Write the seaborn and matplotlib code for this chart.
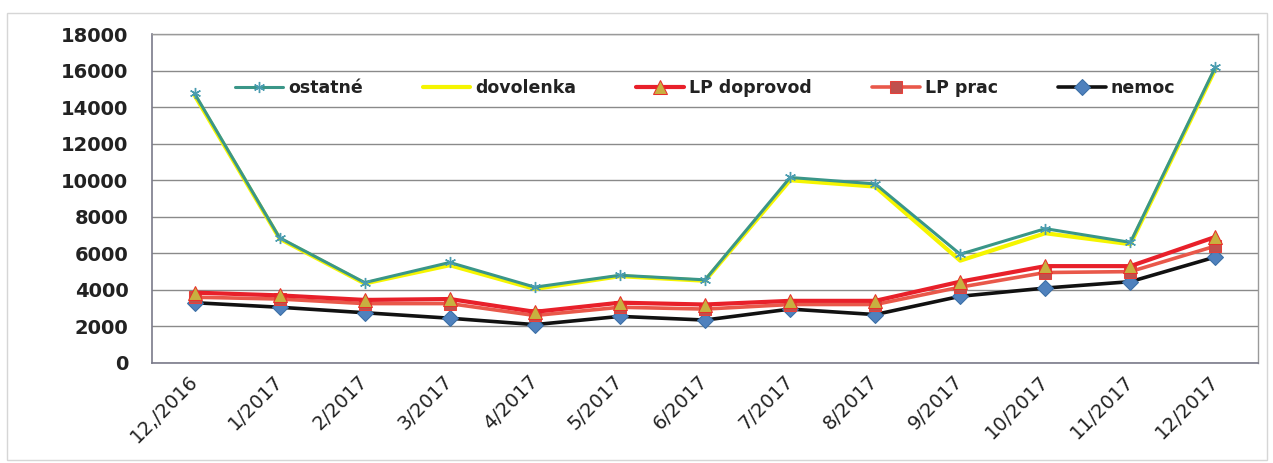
import numpy as np
import pandas as pd
import matplotlib
matplotlib.use("Agg")
import matplotlib.pyplot as plt
from matplotlib.patches import Rectangle
from matplotlib.ticker import FixedLocator, MultipleLocator
import seaborn as sns

# Monthly totals by absence type
months = ["12,/2016", "1/2017", "2/2017", "3/2017", "4/2017", "5/2017", "6/2017",
          "7/2017", "8/2017", "9/2017", "10/2017", "11/2017", "12/2017"]
ostatne = [14750, 6850, 4400, 5500, 4150, 4800, 4550, 10150, 9800, 5950, 7350, 6600, 16200]
dovolenka = [14650, 6800, 4350, 5350, 4050, 4750, 4500, 10000, 9650, 5600, 7100, 6500, 16100]
lp_doprovod = [3850, 3700, 3450, 3500, 2800, 3300, 3200, 3400, 3400, 4450, 5300, 5300, 6900]
lp_prac = [3600, 3500, 3250, 3250, 2600, 3050, 2950, 3200, 3200, 4150, 4950, 5000, 6400]
nemoc = [3300, 3050, 2750, 2450, 2100, 2550, 2350, 2950, 2650, 3650, 4100, 4450, 5800]

sns.set_theme(style="white")
plt.rcParams["font.family"] = ["DejaVu Sans"]

W, H = 1273, 463
fig = plt.figure(figsize=(W / 100, H / 100), dpi=100)
fig.patch.set_facecolor("white")
ax = fig.add_axes([152 / W, 1 - 363 / H, (1258 - 152) / W, (363 - 34) / H])

# outer chart frame
fig.patches.append(Rectangle((7 / W, 3 / H), 1260 / W, 447 / H, transform=fig.transFigure,
                             fill=False, edgecolor="#d6d6d6", linewidth=1.0))

df = pd.DataFrame({"month": months, "ostatné": ostatne, "dovolenka": dovolenka,
                   "LP doprovod": lp_doprovod, "LP prac": lp_prac, "nemoc": nemoc})

styles = {
    "nemoc": dict(color="#111111", lw=2.6, marker="D", markersize=8,
                  markerfacecolor="#4f81bd", markeredgecolor="#3a6ea5"),
    "LP prac": dict(color="#e9584a", lw=2.6, marker="s", markersize=8.5,
                    markerfacecolor="#c0504d", markeredgecolor="#e8403a"),
    "LP doprovod": dict(color="#e8202a", lw=3.0, marker="^", markersize=10.5,
                        markerfacecolor="#c8b040", markeredgecolor="#e8302a"),
    "dovolenka": dict(color="#f5f500", lw=3.0, marker=None),
    "ostatné": dict(color="#3a9688", lw=2.2, marker=(6, 2, 0), markersize=8,
                    markeredgecolor="#4a9cb0", markeredgewidth=1.0),
}

for name in ["nemoc", "LP prac", "LP doprovod", "dovolenka", "ostatné"]:
    sns.lineplot(data=df, x="month", y=name, ax=ax, sort=False, label=name, **styles[name])

ax.set_xlim(-0.5, len(months) - 0.5)
ax.set_ylim(0, 18000)
ax.yaxis.set_major_locator(MultipleLocator(2000))
ax.set_xlabel("")
ax.set_ylabel("")

ax.grid(axis="y", color="#8a8a8a", lw=1.0)
ax.grid(axis="x", visible=False)
ax.set_axisbelow(True)
for side in ["left", "bottom"]:
    ax.spines[side].set_color("#7a7a8a")
    ax.spines[side].set_linewidth(1.2)
for side in ["top", "right"]:
    ax.spines[side].set_color("#9a9a9a")
    ax.spines[side].set_linewidth(1.0)

ax.tick_params(axis="y", which="major", direction="out", length=5, width=1, color="#7a7a8a",
               pad=12, labelsize=14)
for lbl in ax.get_yticklabels():
    lbl.set_fontweight("bold")
    lbl.set_color("#222222")

ax.set_xticks(range(len(months)))
ax.set_xticklabels(months, rotation=45, ha="right", va="center", rotation_mode="anchor",
                   fontsize=14, color="#222222")
ax.tick_params(axis="x", which="major", length=0, pad=11)
ax.xaxis.set_minor_locator(FixedLocator(np.arange(0.5, len(months) - 0.5, 1)))
ax.tick_params(axis="x", which="minor", direction="out", length=5, width=1, color="#7a7a8a")

handles, labels = ax.get_legend_handles_labels()
order = ["ostatné", "dovolenka", "LP doprovod", "LP prac", "nemoc"]
hmap = dict(zip(labels, handles))
leg = ax.legend([hmap[k] for k in order], order, ncol=5, loc="center left",
                bbox_to_anchor=(0.075, 0.836), frameon=False, borderpad=0, borderaxespad=0,
                prop={"weight": "bold", "size": 12.5}, handlelength=2.75, handletextpad=0.3,
                columnspacing=3.45, numpoints=1)
for t in leg.get_texts():
    t.set_color("#222222")

fig.savefig("out.png", dpi=100, facecolor="white")
